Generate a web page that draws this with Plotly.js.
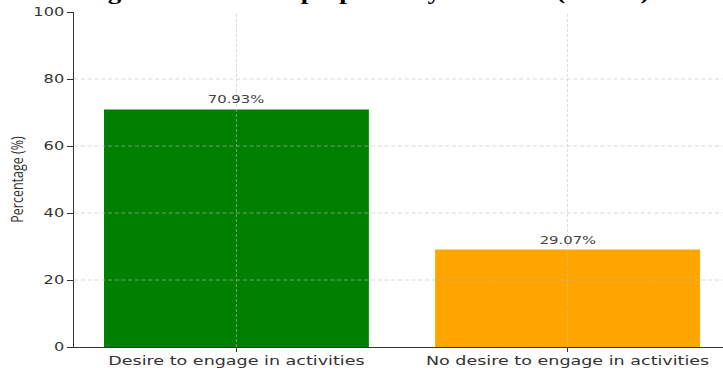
<!DOCTYPE html>
<html>
<head>
<meta charset="utf-8">
<script src="https://cdn.plot.ly/plotly-3.0.1.min.js"></script>
<style>
  html, body { margin: 0; padding: 0; overflow: hidden; background: #fff; width: 723px; height: 368px; }
  #chart { width: 545px; height: 368px; transform: scaleX(1.349); transform-origin: 0 0; }
</style>
</head>
<body>
<div id="chart"></div>
<script>
const categories = ['Desire to engage in activities', 'No desire to engage in activities'];
const percentages = [70.93, 29.07];
const barColors = ['#008000', '#FFA500'];
const yTicks = [0, 20, 40, 60, 80, 100];
const barLabels = percentages.map(v => v.toFixed(2) + '%');
const chartTitle = 'Figure: Interest in preparatory activities (N = 86)';
const yTitle = 'Percentage (%)';

const gridStyle = { color: 'rgba(190,190,190,0.7)', width: 0.7, dash: '3px,2px' };
const shapes = [];
yTicks.filter(t => t > 0 && t < 100).forEach(t => {
  shapes.push({ type: 'line', xref: 'paper', x0: 0, x1: 1, yref: 'y', y0: t, y1: t, layer: 'above', line: gridStyle });
});
categories.forEach(c => {
  shapes.push({ type: 'line', xref: 'x', x0: c, x1: c, yref: 'paper', y0: 0, y1: 1, layer: 'above', line: gridStyle });
});

const annotations = categories.map((c, i) => ({
  x: c, y: percentages[i], text: barLabels[i], showarrow: false,
  yanchor: 'bottom', yshift: 1,
  font: { family: 'DejaVu Sans', size: 11, color: '#444' }
}));
// chart title (mostly above the visible area, as in the reference)
annotations.push({
  text: '<b>' + chartTitle + '</b>', xref: 'paper', yref: 'paper',
  x: 0.4465, y: 1, xanchor: 'center', yanchor: 'bottom', yshift: 7,
  showarrow: false, borderpad: 0,
  font: { family: 'Liberation Serif', size: 20, color: '#000' }
});

const trace = {
  type: 'bar', x: categories, y: percentages, width: 0.8,
  marker: { color: barColors, line: { width: 0 } },
  hoverinfo: 'skip'
};

const layout = {
  width: 545, height: 368,
  margin: { l: 55, r: 4, t: 12, b: 21 },
  paper_bgcolor: '#fff', plot_bgcolor: '#fff',
  showlegend: false,
  xaxis: {
    type: 'category', range: [-0.49, 1.49], showgrid: false, zeroline: false,
    showline: true, linecolor: '#333', linewidth: 1,
    ticks: 'outside', ticklen: 4, tickcolor: '#333', ticklabelstandoff: -3,
    tickfont: { family: 'DejaVu Sans', size: 13, color: '#333' },
    automargin: false
  },
  yaxis: {
    range: [0, 100], tickvals: yTicks, ticktext: yTicks.map(String),
    showgrid: false, zeroline: false,
    showline: true, linecolor: '#333', linewidth: 1,
    ticks: 'outside', ticklen: 4, tickcolor: '#333',
    tickfont: { family: 'DejaVu Sans', size: 12, color: '#333' },
    title: { text: yTitle, standoff: 4, font: { family: 'Open Sans', size: 12.5, color: '#333' } },
    automargin: false
  },
  shapes: shapes,
  annotations: annotations
};

Plotly.newPlot('chart', [trace], layout, { staticPlot: true, displayModeBar: false });
</script>
</body>
</html>
